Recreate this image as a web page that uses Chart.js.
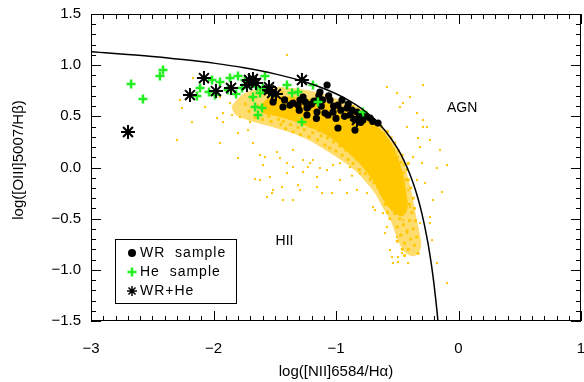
<!DOCTYPE html>
<html><head><meta charset="utf-8">
<script src="https://cdn.jsdelivr.net/npm/chart.js@4.4.0/dist/chart.umd.min.js"></script>
<style>html,body{margin:0;padding:0;background:#fff;overflow:hidden;}canvas{display:block;}</style>
</head><body>
<canvas id="c" width="584" height="382"></canvas>
<script>
// ---------------- data ----------------
const xTickLabels = ['\u22123', '\u22122', '\u22121', '0', '1'];
const yTickLabels = ['\u22121.5', '\u22121.0', '\u22120.5', '0.0', '0.5', '1.0', '1.5'];
const xTitle = 'log([NII]6584/H\u03b1)';
const yTitle = 'log([OIII]5007/H\u03b2)';
const legendLabels = ['WR  sample', 'He  sample', 'WR+He'];
const regionLabels = ['AGN', 'HII'];
const regionPos = [[0.03, 0.58], [-1.42, -0.72]];

// demarcation curve
const curveX = [-3, -2.5, -2.25, -2, -1.75, -1.5, -1.25, -1, -0.9, -0.8, -0.7, -0.6, -0.5, -0.45, -0.4, -0.35, -0.3, -0.25, -0.22, -0.2, -0.18, -0.168, -0.165];
const curveY = [1.130, 1.085, 1.055, 1.020, 0.975, 0.915, 0.835, 0.721, 0.658, 0.582, 0.487, 0.362, 0.191, 0.080, -0.056, -0.225, -0.443, -0.733, -0.959, -1.140, -1.352, -1.498, -1.54];

// SDSS cloud: saturated core outline, medium-density outline, halo points, sparse points
const sdssCore = [[-1.62,0.60],[-1.54,0.68],[-1.43,0.69],[-1.30,0.68],[-1.155,0.65],[-1.00,0.60],[-0.886,0.55],[-0.75,0.47],[-0.64,0.37],[-0.56,0.25],[-0.515,0.14],[-0.46,-0.05],[-0.43,-0.25],[-0.42,-0.40],[-0.46,-0.47],[-0.54,-0.42],[-0.62,-0.30],[-0.68,-0.15],[-0.75,-0.04],[-0.82,0.06],[-0.92,0.17],[-1.05,0.30],[-1.20,0.39],[-1.35,0.46],[-1.50,0.51],[-1.60,0.54],[-1.62,0.60]];
const sdssOuter = [[-1.85,0.60],[-1.75,0.72],[-1.55,0.78],[-1.35,0.77],[-1.15,0.73],[-0.98,0.66],[-0.82,0.58],[-0.70,0.48],[-0.60,0.36],[-0.52,0.22],[-0.46,0.08],[-0.42,-0.08],[-0.38,-0.28],[-0.35,-0.48],[-0.32,-0.65],[-0.31,-0.78],[-0.36,-0.86],[-0.44,-0.82],[-0.50,-0.68],[-0.55,-0.52],[-0.62,-0.38],[-0.68,-0.25],[-0.76,-0.13],[-0.85,-0.02],[-0.95,0.07],[-1.08,0.17],[-1.22,0.27],[-1.38,0.35],[-1.55,0.41],[-1.70,0.46],[-1.82,0.52],[-1.85,0.60]];
const sdssHalo = [
[-1.74,0.62],[-1.71,0.55],[-1.69,0.68],[-1.66,0.49],[-1.64,0.60],[-1.62,0.71],[-1.60,0.47],[-1.58,0.57],[-1.57,0.64],[-1.55,0.50],[-1.53,0.45],[-1.52,0.61],[-1.50,0.70],[-1.49,0.53],[-1.47,0.47],[-1.46,0.58],[-1.45,0.42],[-1.44,0.73],
[-1.43,0.45],[-1.41,0.38],[-1.39,0.49],[-1.37,0.42],[-1.35,0.35],[-1.33,0.46],[-1.31,0.39],[-1.29,0.32],[-1.28,0.43],[-1.26,0.37],[-1.24,0.45],[-1.22,0.30],[-1.21,0.40],[-1.19,0.34],[-1.17,0.42],[-1.15,0.27],[-1.14,0.36],[-1.12,0.31],[-1.10,0.38],[-1.09,0.22],[-1.07,0.29],[-1.05,0.19],[-1.04,0.33],[-1.02,0.25],[-1.00,0.16],[-0.99,0.29],[-0.97,0.21],[-0.95,0.12],[-0.94,0.25],[-0.92,0.17],[-0.90,0.08],[-0.89,0.22],[-0.87,0.13],[-0.86,0.04],[-0.84,0.18],
[-0.83,0.08],[-0.81,-0.02],[-0.80,0.12],[-0.78,0.03],[-0.76,-0.06],[-0.75,0.07],[-0.73,-0.01],[-0.72,-0.11],[-0.70,-0.04],[-0.69,-0.15],[-0.67,-0.07],[-0.66,-0.19],[-0.64,-0.11],[-0.63,-0.24],[-0.61,-0.15],[-0.60,-0.29],[-0.58,-0.20],[-0.57,-0.35],[-0.56,-0.26],[-0.54,-0.41],[-0.53,-0.31],
[-0.52,-0.45],[-0.50,-0.58],[-0.48,-0.50],[-0.47,-0.66],[-0.45,-0.56],[-0.44,-0.74],[-0.42,-0.62],[-0.41,-0.80],[-0.40,-0.52],[-0.39,-0.70],[-0.38,-0.44],[-0.37,-0.60],[-0.36,-0.76],[-0.35,-0.52],[-0.34,-0.68],[-0.33,-0.84],[-0.40,-0.36],[-0.37,-0.30],[-0.36,-0.40],[-0.44,-0.86],[-0.46,-0.80],[-0.50,-0.72],[-0.56,-0.50],[-0.58,-0.44],[-0.60,-0.36],[-0.39,-0.20],[-0.41,-0.12],
[-0.86,0.60],[-0.82,0.57],[-0.78,0.53],[-0.74,0.50],[-0.72,0.44],[-0.70,0.47],[-0.67,0.41],[-0.65,0.36],[-0.63,0.40],[-0.61,0.33],[-0.59,0.27],[-0.58,0.35],[-0.56,0.22],[-0.55,0.29],[-0.53,0.18],[-0.52,0.24],[-0.50,0.10],[-0.49,0.16],[-0.47,0.05],[-0.46,0.12],[-0.45,-0.05],[-0.44,0.03],[-0.42,-0.02],[-0.43,-0.12],[-0.41,0.04]];
const sdssSparse = [
[-2.167,0.874],[-2.273,0.659],[-2.257,0.581],[-2.176,0.444],[-2.298,0.268],[-2.069,0.591],[-1.971,0.483],[-1.947,0.689],[-1.865,0.630],[-1.922,0.532],[-1.849,0.513],[-1.784,0.493],[-1.922,0.444],[-1.702,0.444],[-1.800,0.337],[-1.718,0.366],[-1.947,0.239],[-1.678,0.239],[-1.800,0.092],[-1.400,1.100],
[-1.661,-0.113],[-1.563,-0.289],[-1.522,-0.250],[-1.441,-0.191],[-1.433,-0.318],[-1.351,-0.318],[-1.310,-0.172],[-1.294,-0.220],[-1.155,-0.191],[-1.114,-0.250],[-1.033,-0.250],[-0.910,-0.250],[-0.682,-0.416],[-1.580,0.102],[-1.457,0.092],[-1.400,0.043],[-1.351,0.004],[-1.269,0.073],[-1.229,0.004],[-1.188,0.073],[-1.131,-0.005],[-1.073,-0.025],[-1.024,0.024],[-0.967,0.043],[-0.886,0.004],[-0.804,-0.054],[-0.722,-0.123],[-1.400,-0.054],[-1.269,-0.045],[-1.596,0.024],[-1.620,0.122],[-1.482,0.151],
[-1.620,-0.123],[-1.514,-0.220],[-1.539,-0.093],[-1.351,0.171],[-1.155,-0.093],[-1.212,0.043],[-0.967,-0.123],[-0.870,-0.080],[-0.829,-0.220],[-0.747,-0.250],[-0.698,-0.387],[-0.616,-0.445],[-0.584,-0.582],[-0.502,-0.680],[-0.559,-0.807],[-0.535,-0.934],[-0.453,-0.514],[-0.396,-0.387],[-0.420,-0.641],[-0.461,-0.836],[-0.494,-0.924],
[-0.584,0.786],[-0.290,0.806],[-0.396,0.689],[-0.339,0.532],[-0.290,0.396],[-0.331,0.288],[-0.314,0.200],[-0.233,0.268],[-0.371,0.102],[-0.298,0.043],[-0.339,-0.123],[-0.273,-0.152],[-0.208,-0.318],[-0.233,-0.543],[-0.216,-0.709],[-0.176,-0.934],[-0.420,0.396],[-0.478,0.591],[-0.502,0.728],[-0.453,-0.123],[-0.412,-0.220],[-0.094,0.024],[-0.094,-1.130],[-0.135,-0.240],[-0.176,-0.005],[-0.151,0.171],[-0.290,0.464],[-0.453,0.630],[-0.494,-0.875],[-0.412,-0.934],[-0.543,-0.875],[-0.600,-0.641],[-0.314,-0.543],[-0.233,-0.484],[-0.257,0.396]];

// samples
const wrSample = [[-1.514,0.640],[-1.433,0.591],[-1.420,0.660],[-1.376,0.610],[-1.351,0.630],[-1.310,0.610],[-1.300,0.560],[-1.294,0.659],[-1.269,0.689],[-1.250,0.640],[-1.237,0.581],[-1.237,0.513],[-1.229,0.591],[-1.200,0.620],[-1.180,0.650],[-1.160,0.480],[-1.155,0.542],[-1.140,0.700],[-1.131,0.738],[-1.120,0.600],[-1.110,0.660],[-1.090,0.532],[-1.073,0.806],[-1.065,0.513],[-1.060,0.700],[-1.049,0.659],[-1.024,0.542],[-1.020,0.600],[-1.000,0.480],[-0.984,0.610],[-0.984,0.386],[-0.960,0.560],[-0.951,0.659],[-0.930,0.500],[-0.910,0.581],[-0.900,0.620],[-0.886,0.513],[-0.870,0.560],[-0.850,0.470],[-0.845,0.366],[-0.829,0.542],[-0.804,0.513],[-0.800,0.440],[-0.780,0.464],[-0.760,0.500],[-0.722,0.483],[-0.700,0.450],[-0.657,0.434]];
const heSample = [[-2.673,0.816],[-2.576,0.669],[-2.437,0.894],[-2.412,0.953],[-2.135,0.698],[-2.110,0.777],[-2.037,0.738],[-2.012,0.855],[-1.988,0.708],[-1.947,0.835],[-1.882,0.757],[-1.865,0.874],[-1.816,0.718],[-1.800,0.894],[-1.767,0.777],[-1.743,0.855],[-1.702,0.806],[-1.678,0.689],[-1.661,0.591],[-1.645,0.786],[-1.637,0.513],[-1.620,0.728],[-1.604,0.581],[-1.596,0.777],[-1.580,0.894],[-1.539,0.738],[-1.400,0.806],[-1.359,0.728],[-1.310,0.738],[-1.278,0.444],[-1.188,0.806],[-1.147,0.640],[-0.780,0.542]];
const wrHe = [[-2.698,0.347],[-2.192,0.708],[-2.078,0.874],[-1.980,0.747],[-1.857,0.777],[-1.727,0.806],[-1.710,0.855],[-1.678,0.865],[-1.653,0.826],[-1.547,0.786],[-1.547,0.757],[-1.522,0.728],[-1.490,0.718],[-1.278,0.855],[-0.829,0.464]];

// ---------------- chart ----------------
const FONT = '"Liberation Sans", Arial, Helvetica, sans-serif';
const YELLOW = '#FFC800';
const GREEN = '#22EE22';
const pts = a => a.map(p => ({x: p[0], y: p[1]}));
const curve = curveX.map((x, i) => ({x: x, y: curveY[i]}));

const deco = {
  id: 'deco',
  afterDraw(chart) {
    const ctx = chart.ctx, a = chart.chartArea, xs = chart.scales.x, ys = chart.scales.y;
    ctx.save();
    ctx.strokeStyle = '#000';
    ctx.lineWidth = 1;
    const ln = (x1, y1, x2, y2) => { ctx.beginPath(); ctx.moveTo(x1, y1); ctx.lineTo(x2, y2); ctx.stroke(); };
    ctx.strokeRect(a.left + 0.5, a.top + 0.5, a.right - a.left - 1, a.bottom - a.top - 1);
    for (let i = -30; i <= 10; i++) {
      const px = Math.round(xs.getPixelForValue(i / 10)) + 0.5;
      const L = (i % 10 === 0) ? 10 : 5;
      ln(px, a.bottom, px, a.bottom - L);
      ln(px, a.top, px, a.top + L);
    }
    for (let i = -15; i <= 15; i++) {
      const py = Math.round(ys.getPixelForValue(i / 10)) + 0.5;
      const L = (i % 5 === 0) ? 10 : 5;
      ln(a.left, py, a.left + L, py);
      ln(a.right, py, a.right - L, py);
    }
    ctx.fillStyle = '#000';
    ctx.textAlign = 'center';
    ctx.textBaseline = 'middle';
    // axis titles
    ctx.font = '15px ' + FONT;
    ctx.fillText(xTitle, (a.left + a.right) / 2, 372);
    ctx.save();
    ctx.translate(19, 160);
    ctx.rotate(-Math.PI / 2);
    ctx.fillText(yTitle, 0, 0);
    ctx.restore();
    // region labels
    ctx.font = '14px ' + FONT;
    regionLabels.forEach((t, i) => {
      ctx.fillText(t, xs.getPixelForValue(regionPos[i][0]), ys.getPixelForValue(regionPos[i][1]));
    });
    // legend
    ctx.strokeRect(115.5, 239.5, 121, 64);
    const ly = [253, 272, 291];
    ctx.fillStyle = '#000';
    Chart.helpers.drawPoint(ctx, {pointStyle: 'circle', radius: 4, rotation: 0, borderWidth: 0}, 132, ly[0]);
    ctx.strokeStyle = GREEN; ctx.lineWidth = 2.5;
    Chart.helpers.drawPoint(ctx, {pointStyle: 'cross', radius: 4.5, rotation: 0, borderWidth: 2.5}, 132, ly[1]);
    ctx.strokeStyle = '#000'; ctx.lineWidth = 1.5;
    Chart.helpers.drawPoint(ctx, {pointStyle: 'star', radius: 5, rotation: 0, borderWidth: 1.5}, 132, ly[2]);
    ctx.fillStyle = '#000';
    ctx.font = '14px ' + FONT;
    ctx.textAlign = 'left';
    try { ctx.letterSpacing = '1px'; } catch (e) {}
    legendLabels.forEach((t, i) => ctx.fillText(t, 140, ly[i] + 0.5));
    ctx.restore();
  }
};

new Chart(document.getElementById('c'), {
  type: 'scatter',
  data: {
    datasets: [
      {label: 'medium', type: 'line', data: pts(sdssOuter), fill: 'shape', backgroundColor: '#FFDC6E', borderColor: '#FFDC6E', borderWidth: 1, pointRadius: 0, tension: 0.35, order: 8},
      {label: 'core', type: 'line', data: pts(sdssCore), fill: 'shape', backgroundColor: YELLOW, borderColor: YELLOW, borderWidth: 1, pointRadius: 0, tension: 0.35, order: 7},
      {label: 'halo', data: pts(sdssHalo), pointStyle: 'rect', pointRadius: 2, backgroundColor: YELLOW, borderWidth: 0, order: 6},
      {label: 'sparse', data: pts(sdssSparse), pointStyle: 'rect', pointRadius: 1.5, backgroundColor: '#FFC814', borderWidth: 0, order: 5},
      {label: 'WR sample', data: pts(wrSample), pointStyle: 'circle', pointRadius: 3.6, backgroundColor: '#000', borderWidth: 0, order: 4},
      {label: 'He sample', data: pts(heSample), pointStyle: 'cross', pointRadius: 4.5, borderColor: GREEN, borderWidth: 2.5, order: 3},
      {label: 'curve', type: 'line', data: curve, borderColor: '#000', borderWidth: 1.5, pointRadius: 0, cubicInterpolationMode: 'monotone', fill: false, order: 2},
      {label: 'WR+He', data: pts(wrHe), pointStyle: 'star', pointRadius: 7, borderColor: '#000', borderWidth: 2, order: 1}
    ]
  },
  options: {
    responsive: false,
    devicePixelRatio: 1,
    animation: false,
    events: [],
    layout: {autoPadding: false, padding: {top: 14, right: 3, left: 0, bottom: 0}},
    plugins: {legend: {display: false}, tooltip: {enabled: false}},
    scales: {
      x: {
        type: 'linear', min: -3, max: 1,
        grid: {display: false, drawTicks: false}, border: {display: false},
        ticks: {stepSize: 1, padding: 19, color: '#000', font: {family: FONT, size: 15}, maxRotation: 0, autoSkip: false,
                callback: (v, i) => xTickLabels[i]},
        afterFit: s => { s.height = 61; s.paddingLeft = 0; s.paddingRight = 0; }
      },
      y: {
        type: 'linear', min: -1.5, max: 1.5,
        grid: {display: false, drawTicks: false}, border: {display: false},
        ticks: {stepSize: 0.5, padding: 10, color: '#000', font: {family: FONT, size: 15}, autoSkip: false,
                callback: (v, i) => yTickLabels[i]},
        afterFit: s => { s.width = 91; s.paddingTop = 0; s.paddingBottom = 0; }
      }
    }
  },
  plugins: [deco]
});
</script>
</body></html>
